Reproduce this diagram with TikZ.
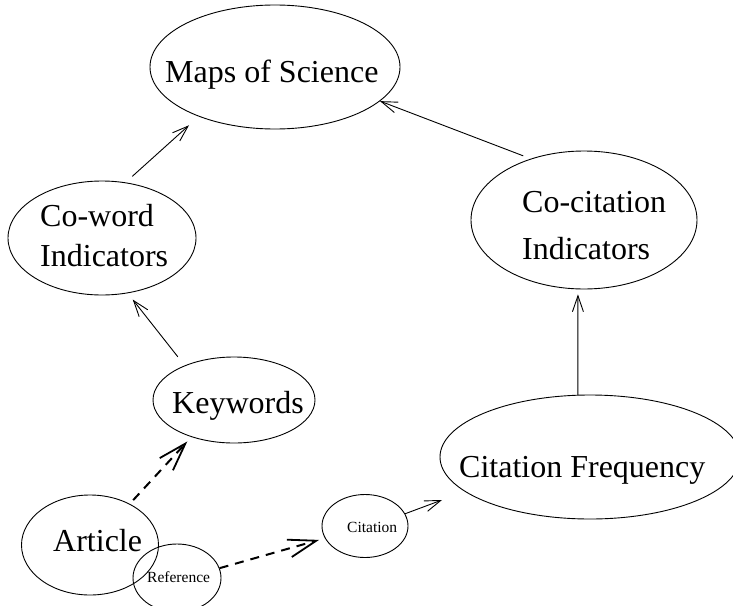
\documentclass[tikz,border=0pt]{standalone}
\usepackage{fontspec}
\setmainfont{Liberation Serif}
\usetikzlibrary{shapes.geometric,arrows.meta}
\begin{document}
\begin{tikzpicture}[x=1pt,y=-1pt,
  el/.style={draw, ellipse, inner sep=0pt, line width=0.9pt},
  txt/.style={inner sep=0pt, font=\fontsize{32}{40}\selectfont},
  txtb/.style={inner sep=0pt, font=\fontsize{32}{47}\selectfont},
  smalltxt/.style={inner sep=0pt, font=\fontsize{15.5}{18}\selectfont},
  arr/.style={line width=0.9pt, -{Straight Barb[length=16pt,width=11pt]}},
  darr/.style={line width=2pt, dash pattern=on 9pt off 7pt,
    -{Straight Barb[length=28pt,width=18pt,line width=1.8pt]}}
]
\useasboundingbox (0,0) rectangle (733,605);
% ellipses
\node[el, minimum width=250pt, minimum height=124pt] (maps) at (275,67) {};
\node[el, minimum width=188pt, minimum height=114pt] (coword) at (102,238) {};
\node[el, minimum width=226pt, minimum height=138pt] (coc) at (584,220) {};
\node[el, minimum width=162pt, minimum height=86pt] (kw) at (234,400) {};
\node[el, minimum width=300pt, minimum height=124pt] (cf) at (590,457) {};
\node[el, minimum width=137pt, minimum height=100pt] (art) at (90,545) {};
\node[el, minimum width=88pt, minimum height=68pt] (ref) at (177,578) {};
\node[el, minimum width=86pt, minimum height=63pt] (cit) at (365,526) {};
% texts
\node[txt, anchor=base west] (mapst) at (165,82) {Maps of Science};
\node[txt, align=left, anchor=west] (cowordt) at (40,236) {Co-word\\Indicators};
\node[txtb, align=left, anchor=west] (coct) at (522,225.5) {Co-citation\\Indicators};
\node[txt, anchor=base west] (kwt) at (172,413) {Keywords};
\node[txt, anchor=base west] (cft) at (459,477) {Citation Frequency};
\node[txt, anchor=base west] (artt) at (53,551) {Article};
\node[smalltxt, anchor=base west] (reft) at (147,582) {Reference};
\node[smalltxt, anchor=base west] (citt) at (347,532) {Citation};
\coordinate (citend) at (442,500);
% connectors
\draw[arr, shorten <=9pt, shorten >=13pt] (coword.67) -- (maps.213);
\draw[arr, shorten <=8pt] (coc.131) -- (maps.342);
\draw[arr, shorten <=11pt, shorten >=8pt] (kw.145) -- (coword.295);
\draw[arr, shorten >=5pt] (cf.101) -- (coc.265);
\draw[arr] (cit.17) -- (citend);
\draw[darr, shorten <=5pt, shorten >=6pt] (art.46) -- (kw.221);
\draw[darr, shorten >=6pt] (ref.13) -- (cit.197);
\end{tikzpicture}
\end{document}
